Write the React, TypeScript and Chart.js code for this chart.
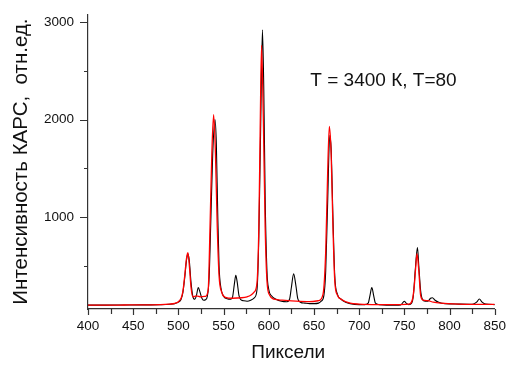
import React, { useEffect, useRef } from "react";
import { Chart, registerables } from "chart.js";

Chart.register(...registerables);

// Black spectrum (experiment)
const pixelsBlack = [
  400, 420, 440, 460, 480, 490, 496, 500, 503, 505,
  507, 509, 510.5, 512, 514, 516, 518, 520, 522, 524,
  526, 528, 530, 532, 534, 536, 538, 540.5, 542, 543.5,
  545, 547, 550, 554, 558, 560, 562, 563.5, 565, 567,
  569, 572, 576, 580, 584, 587, 589, 591, 593, 594.5,
  596, 598, 600, 603, 608, 614, 620, 623, 625, 627.5,
  630, 632, 635, 640, 645, 650, 655, 658, 661, 663,
  665, 667.5, 669, 671, 673, 676, 680, 685, 690, 700,
  706, 710, 712, 714, 716, 718, 722, 730, 740, 746,
  750, 752, 755, 758, 760, 762, 764.5, 766, 768, 770,
  773, 776, 779, 781, 784, 788, 795, 810, 825, 830,
  833, 836, 840, 850,
];
const intensityBlack = [
  100, 100, 101, 102, 104, 108, 115, 130, 160, 230,
  380, 560, 625, 560, 330, 190, 160, 200, 280, 230,
  170, 150, 155, 190, 380, 1000, 1650, 2000, 1750, 1050,
  500, 280, 190, 165, 160, 185, 320, 405, 340, 200,
  155, 145, 140, 150, 175, 260, 800, 1900, 2920, 2300,
  1200, 450, 260, 195, 160, 140, 135, 160, 280, 420,
  300, 170, 130, 120, 115, 115, 120, 140, 200, 450,
  1100, 1840, 1700, 1000, 400, 210, 160, 130, 115, 105,
  105, 120, 200, 280, 200, 120, 105, 100, 100, 102,
  140, 120, 105, 120, 200, 450, 690, 500, 250, 160,
  140, 140, 170, 175, 150, 130, 115, 110, 108, 130,
  162, 130, 110, 105,
];

// Red spectrum (calculation)
const pixelsRed = [
  400, 420, 440, 460, 480, 490, 496, 500, 503, 505,
  507, 509, 510.5, 512, 514, 516, 520, 525, 530, 533,
  535, 537, 539, 541, 543, 545, 548, 552, 560, 570,
  576, 580, 584, 587, 589, 590.5, 592, 594, 596, 598,
  601, 606, 615, 630, 645, 655, 660, 663, 665, 667,
  669, 671, 673, 676, 680, 690, 700, 720, 740, 755,
  759, 761, 762.5, 764, 766, 768, 771, 776, 782, 790,
  810, 830, 850,
];
const intensityRed = [
  100, 100, 101, 102, 104, 110, 118, 135, 170, 240,
  400, 580, 636, 520, 280, 185, 195, 185, 190, 260,
  900, 1650, 2050, 1650, 900, 400, 230, 180, 170, 175,
  185, 200, 235, 330, 900, 1900, 2760, 2000, 900, 350,
  200, 160, 150, 140, 135, 145, 210, 650, 1400, 1929,
  1650, 900, 350, 200, 160, 120, 110, 105, 105, 110,
  160, 300, 480, 626, 450, 200, 150, 145, 130, 120,
  110, 108, 108,
];

const xTickValues = [400, 425, 450, 475, 500, 525, 550, 575, 600, 625, 650, 675, 700, 725, 750, 775, 800, 825, 850];
const yTickValues = [500, 1000, 1500, 2000, 2500, 3000];
const yLabelValues = [1000, 2000, 3000];
const xLabelValues = [400, 450, 500, 550, 600, 650, 700, 750, 800, 850];

const annotationText = "T = 3400 К, T=80";
const xTitle = "Пиксели";
const yTitle = "Интенсивность КАРС,  отн.ед.";

const FONT = '"Liberation Sans", Arial, sans-serif';
const AXIS_COLOR = "#333333";

const ticksPlugin = {
  id: "customTicks",
  afterDraw(chart: any) {
    const ctx = chart.ctx;
    const xs = chart.scales.x;
    const ys = chart.scales.y;
    const { left, bottom } = chart.chartArea;
    ctx.save();
    ctx.strokeStyle = AXIS_COLOR;
    ctx.lineWidth = 1.2;
    ctx.beginPath();
    for (const v of xTickValues) {
      const px = Math.round(xs.getPixelForValue(v)) + 0.5;
      const len = xLabelValues.includes(v) ? 6 : 5;
      ctx.moveTo(px, bottom);
      ctx.lineTo(px, bottom + len);
    }
    for (const v of yTickValues) {
      const py = Math.round(ys.getPixelForValue(v)) + 0.5;
      const len = yLabelValues.includes(v) ? 8 : 4;
      ctx.moveTo(left, py);
      ctx.lineTo(left - len, py);
    }
    ctx.stroke();
    ctx.fillStyle = "#111";
    ctx.font = "19px " + FONT;
    ctx.textBaseline = "alphabetic";
    ctx.textAlign = "left";
    // annotation
    ctx.fillText(annotationText, xs.getPixelForValue(646), ys.getPixelForValue(2345));
    // x axis title
    ctx.textAlign = "center";
    ctx.fillText(xTitle, xs.getPixelForValue(621.5), bottom + 49);
    ctx.restore();
  },
};

export default function App() {
  const ref = useRef<HTMLCanvasElement | null>(null);
  useEffect(() => {
    if (!ref.current) return;
    const chart = new Chart(ref.current, {
      type: "line",
      data: {
        datasets: [
          {
            label: "red",
            data: pixelsRed.map((x, i) => ({ x, y: intensityRed[i] })),
            borderColor: "#ff0000",
            borderWidth: 1.3,
            pointRadius: 0,
            cubicInterpolationMode: "monotone",
            order: 0,
          },
          {
            label: "black",
            data: pixelsBlack.map((x, i) => ({ x, y: intensityBlack[i] })),
            borderColor: "#000000",
            borderWidth: 1.1,
            pointRadius: 0,
            cubicInterpolationMode: "monotone",
            order: 1,
          },
        ],
      },
      options: {
        responsive: false,
        animation: false,
        layout: { padding: { top: 10, right: 14, left: 0, bottom: 0 } },
        plugins: { legend: { display: false }, tooltip: { enabled: false } },
        scales: {
          x: {
            type: "linear",
            min: 400,
            max: 850,
            afterBuildTicks: (s: any) => {
              s.ticks = xTickValues.map((v) => ({ value: v }));
            },
            afterFit: (s: any) => {
              s.height = 56;
            },
            ticks: {
              autoSkip: false,
              maxRotation: 0,
              padding: 3,
              color: "#111",
              font: { family: FONT, size: 13.5 },
              callback: (v: any) => (xLabelValues.includes(Number(v)) ? String(v) : ""),
            },
            grid: { drawOnChartArea: false, color: "rgba(0,0,0,0)", tickLength: 6 },
            border: { display: true, color: AXIS_COLOR, width: 1.2 },
            title: { display: false },
          },
          y: {
            type: "linear",
            min: 60,
            max: 3080,
            afterBuildTicks: (s: any) => {
              s.ticks = yTickValues.map((v) => ({ value: v }));
            },
            afterFit: (s: any) => {
              s.width = 88;
            },
            ticks: {
              autoSkip: false,
              padding: 6,
              color: "#111",
              font: { family: FONT, size: 13.5 },
              callback: (v: any) => (yLabelValues.includes(Number(v)) ? String(v) : ""),
            },
            grid: { drawOnChartArea: false, color: "rgba(0,0,0,0)", tickLength: 8 },
            border: { display: true, color: AXIS_COLOR, width: 1.2 },
            title: {
              display: true,
              text: yTitle,
              color: "#111",
              font: { family: FONT, size: 20.5 },
              padding: { top: 9, bottom: 0 },
            },
          },
        },
      } as any,
      plugins: [ticksPlugin],
    });
    return () => chart.destroy();
  }, []);
  return (
    <div style={{ position: "fixed", left: 0, top: 0, width: 509, height: 365, background: "#fff" }}>
      <canvas ref={ref} width={509} height={365} style={{ display: "block" }} />
    </div>
  );
}
